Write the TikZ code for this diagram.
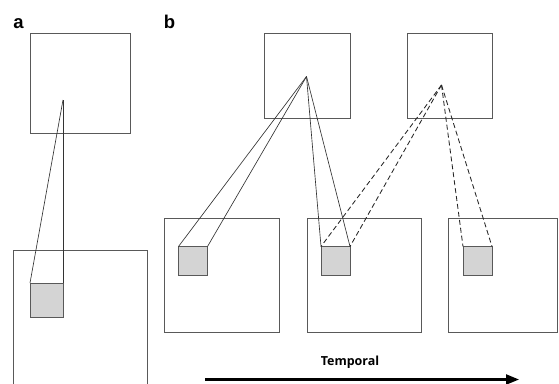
\documentclass[tikz,border=0pt]{standalone}
\usepackage{fontspec}
\setmainfont{Liberation Sans}
\newfontfamily\captionfont{Open Sans}
\usetikzlibrary{arrows.meta}
\begin{document}
\begin{tikzpicture}[x=1pt,y=-1pt,
  frame/.style={draw=black!65,line width=0.9pt,fill=white,inner sep=0pt,outer sep=0pt},
  patch/.style={draw=black!65,line width=0.9pt,fill=black!17,inner sep=0pt,outer sep=0pt,
    minimum width=29pt,minimum height=29pt},
  link/.style={draw=black!80,line width=0.65pt},
  dlink/.style={draw=black!85,line width=0.85pt,dash pattern=on 5pt off 3pt},
  panel/.style={font=\bfseries\fontsize{18.5}{18.5}\selectfont,inner sep=0pt,anchor=base}]
\useasboundingbox (0,0) rectangle (559,383);
\begin{scope}
\clip (0,0) rectangle (559,383);

% panel labels
\node[panel] (la) at (18.5,28) {a};
\node[panel] (lb) at (169.5,28) {b};

% ---- panel a ----
\node[frame,minimum width=134pt,minimum height=145pt] (ba) at (80,322.5) {};
\node[frame,minimum width=100pt,minimum height=100pt] (ta) at (80,83) {};
\node[patch,minimum width=33pt,minimum height=34pt] (ga) at (46.5,300) {};
\coordinate (pa) at (63,100);
\draw[link] (pa) -- (ga.north west);
\draw[link] (pa) -- (ga.north east);

% ---- panel b: lower frames ----
\node[frame,minimum width=115pt,minimum height=114pt] (b1) at (221.5,275) {};
\node[frame,minimum width=114pt,minimum height=114pt] (b2) at (364,275) {};
\node[frame,minimum width=109pt,minimum height=114pt] (b3) at (503,275) {};
\node[patch] (g1) at (193,261) {};
\node[patch] (g2) at (335.5,261) {};
\node[patch] (g3) at (477.5,261) {};

% ---- panel b: upper frames ----
\node[frame,minimum width=86pt,minimum height=85pt] (t1) at (307,75.5) {};
\node[frame,minimum width=85pt,minimum height=85pt] (t2) at (449.5,75.5) {};
\coordinate (p1) at (306.5,76.5);
\coordinate (p2) at (441.5,85);

% solid connectors
\draw[link] (p1) -- (g1.north west);
\draw[link] (p1) -- (g1.north east);
\draw[link] (p1) -- (g2.north west);
\draw[link] (p1) -- (g2.north east);
% dashed connectors
\draw[dlink] (p2) -- (g2.north west);
\draw[dlink] (p2) -- (g2.north east);
\draw[dlink] (p2) -- (g3.north west);
\draw[dlink] (p2) -- (g3.north east);

% time axis
\coordinate (ts) at (205,379.5);
\coordinate (te) at (519,379.5);
\draw[line width=2.2pt,-{Triangle[length=13pt,width=10pt]}] (ts) -- (te);
\node[font=\captionfont\bfseries\fontsize{12.5}{12.5}\selectfont,inner sep=0pt] (tl) at (350,362) {Temporal};
\end{scope}
\end{tikzpicture}
\end{document}
